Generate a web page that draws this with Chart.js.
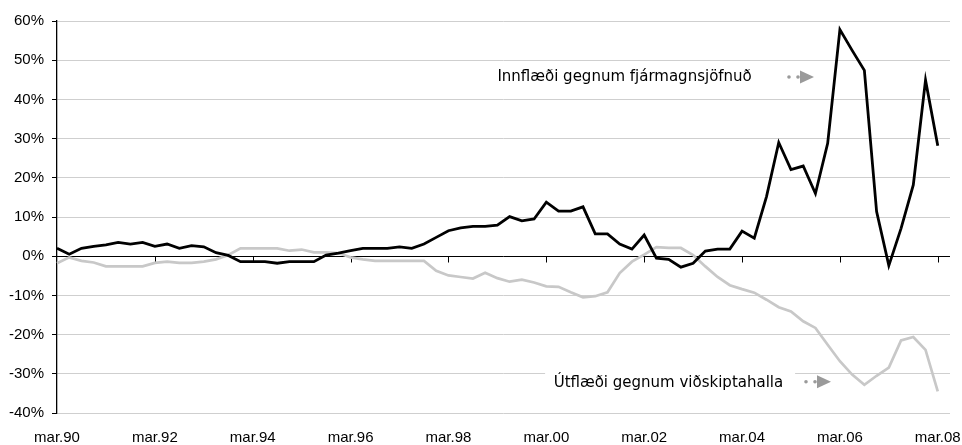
<!DOCTYPE html>
<html>
<head>
<meta charset="utf-8">
<script src="https://cdn.jsdelivr.net/npm/chart.js@4.4.1/dist/chart.umd.min.js"></script>
<style>
  html, body { margin: 0; padding: 0; background: #fff; }
  #wrap { width: 962px; height: 445px; position: relative; }
</style>
</head>
<body>
<div id="wrap"><canvas id="flowChart"></canvas></div>
<script>
// quarters mar.90 .. jún.08 (last one is empty so the plot runs a bit past mar.08)
const years = ["90","91","92","93","94","95","96","97","98","99","00","01","02","03","04","05","06","07","08"];
const quarterNames = ["mar", "jún", "sep", "des"];
const shownTicks = ["mar.90","mar.92","mar.94","mar.96","mar.98","mar.00","mar.02","mar.04","mar.06","mar.08"];

const categories = [];
years.forEach(y => quarterNames.forEach(q => categories.push(q + "." + y)));
categories.splice(74); // stop at jún.08

// Innflæði gegnum fjármagnsjöfnuð (%)
const inflow = [
  2.0, 0.5, 2.0, 2.5, 2.9, 3.5, 3.1, 3.5,
  2.5, 3.1, 2.0, 2.7, 2.4, 0.9, 0.2, -1.4,
  -1.4, -1.4, -1.8, -1.4, -1.4, -1.4, 0.3, 0.8,
  1.4, 2.0, 2.0, 2.0, 2.4, 2.0, 3.1, 4.8,
  6.5, 7.2, 7.6, 7.6, 7.9, 10.1, 9.0, 9.5,
  13.8, 11.5, 11.5, 12.6, 5.7, 5.7, 3.1, 1.8,
  5.4, -0.5, -0.8, -2.8, -1.8, 1.3, 1.8, 1.8,
  6.4, 4.6, 15.2, 29.0, 22.1, 23.0, 16.0, 28.8,
  57.8, 52.5, 47.4, 11.4, -2.4, 7.1, 18.2, 44.9,
  28.2, null
];

// Útflæði gegnum viðskiptahalla (%)
const outflow = [
  -1.8, -0.3, -1.2, -1.6, -2.6, -2.6, -2.6, -2.6,
  -1.7, -1.4, -1.7, -1.7, -1.4, -0.8, 0.3, 2.0,
  2.0, 2.0, 2.0, 1.4, 1.7, 1.0, 1.0, 0.8,
  -0.3, -0.8, -1.2, -1.2, -1.2, -1.2, -1.2, -3.7,
  -4.9, -5.3, -5.7, -4.2, -5.6, -6.5, -6.0, -6.7,
  -7.7, -7.8, -9.2, -10.5, -10.2, -9.2, -4.3, -1.4,
  0.4, 2.3, 2.1, 2.1, 0.3, -2.6, -5.3, -7.4,
  -8.4, -9.3, -11.1, -13.0, -14.1, -16.6, -18.3, -22.6,
  -26.8, -30.2, -32.8, -30.5, -28.4, -21.5, -20.6, -23.9,
  -34.5, null
];

const GRID = "#cfcfcf";
const LABEL_FONT = "15px 'DejaVu Sans', Verdana, sans-serif";

/* zero axis line with tick marks every two years */
const zeroAxis = {
  id: "zeroAxis",
  beforeDatasetsDraw(chart) {
    const { ctx, chartArea, scales } = chart;
    const y0 = Math.round(scales.y.getPixelForValue(0)) + 0.5;
    ctx.save();
    ctx.strokeStyle = "#000";
    ctx.lineWidth = 1;
    ctx.beginPath();
    ctx.moveTo(chartArea.left, y0);
    ctx.lineTo(chartArea.right, y0);
    categories.forEach((c, i) => {
      if (i > 0 && shownTicks.includes(c)) {
        const x = Math.round(scales.x.getPixelForValue(i)) + 0.5;
        ctx.moveTo(x, y0);
        ctx.lineTo(x, y0 + 6);
      }
    });
    ctx.stroke();

    // white box behind the lower label (hides the -30% gridline)
    const bx = scales.x.getPixelForValue(39.9);
    const by = scales.y.getPixelForValue(-28.7);
    ctx.fillStyle = "#fff";
    ctx.fillRect(bx, by, 250, 26);
    ctx.restore();
  }
};

/* series labels with little arrows */
function drawArrow(ctx, x, y) {
  ctx.save();
  ctx.fillStyle = "#9a9a9a";
  ctx.beginPath();
  ctx.arc(x, y, 1.8, 0, Math.PI * 2);
  ctx.arc(x + 9, y, 1.8, 0, Math.PI * 2);
  ctx.fill();
  ctx.beginPath();
  ctx.moveTo(x + 11, y - 6.5);
  ctx.lineTo(x + 25, y);
  ctx.lineTo(x + 11, y + 6.5);
  ctx.closePath();
  ctx.fill();
  ctx.restore();
}

const seriesLabels = {
  id: "seriesLabels",
  afterDraw(chart) {
    const { ctx, scales } = chart;
    ctx.save();
    ctx.font = LABEL_FONT;
    ctx.fillStyle = "#000";
    ctx.textBaseline = "middle";
    ctx.textAlign = "left";

    let x = scales.x.getPixelForValue(36);
    let y = scales.y.getPixelForValue(45.7);
    ctx.fillText("Innflæði gegnum fjármagnsjöfnuð", x, y);
    drawArrow(ctx, 789, y);

    x = scales.x.getPixelForValue(40.6);
    y = scales.y.getPixelForValue(-32.3);
    ctx.fillText("Útflæði gegnum viðskiptahalla", x, y);
    drawArrow(ctx, 806, y - 1);
    ctx.restore();
  }
};

new Chart(document.getElementById("flowChart"), {
  type: "line",
  data: {
    labels: categories,
    datasets: [
      {
        label: "Innflæði gegnum fjármagnsjöfnuð",
        data: inflow,
        borderColor: "#000",
        borderWidth: 2.8,
        pointRadius: 0,
        tension: 0,
        fill: false
      },
      {
        label: "Útflæði gegnum viðskiptahalla",
        data: outflow,
        borderColor: "#c8c8c8",
        borderWidth: 2.7,
        pointRadius: 0,
        tension: 0,
        fill: false
      }
    ]
  },
  options: {
    responsive: true,
    maintainAspectRatio: false,
    animation: false,
    layout: { padding: { top: 21, right: 12, left: 0, bottom: 0 } },
    plugins: {
      legend: { display: false },
      tooltip: { enabled: false }
    },
    scales: {
      x: {
        offset: false,
        grid: { display: false },
        border: { display: false },
        ticks: {
          autoSkip: false,
          maxRotation: 0,
          padding: 8,
          color: "#000",
          font: { family: "'Liberation Sans', Arial, sans-serif", size: 15 },
          callback: function (value) {
            const lab = this.getLabelForValue(value);
            return shownTicks.includes(lab) ? lab : "";
          }
        },
        afterFit: scale => { scale.height = 32; }
      },
      y: {
        min: -40,
        max: 60,
        grid: {
          color: GRID,
          lineWidth: 1,
          tickColor: "#000",
          tickLength: 5
        },
        border: { display: true, color: "#000", width: 1.3 },
        ticks: {
          stepSize: 10,
          padding: 8,
          color: "#000",
          font: { family: "'Liberation Sans', Arial, sans-serif", size: 15 },
          callback: v => v + "%"
        },
        afterFit: scale => { scale.width = 57; }
      }
    }
  },
  plugins: [zeroAxis, seriesLabels]
});
</script>
</body>
</html>
